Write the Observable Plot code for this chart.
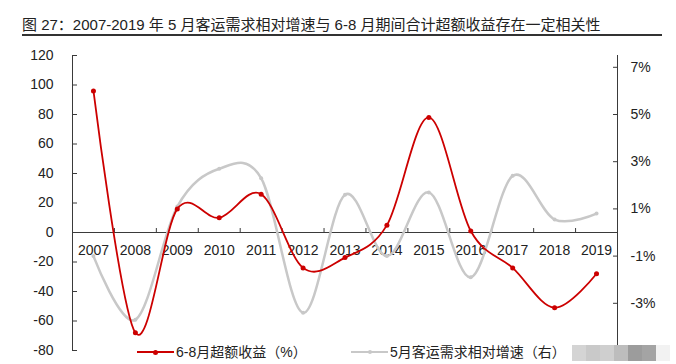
<!DOCTYPE html>
<html>
<head>
<meta charset="utf-8">
<script src="https://cdn.jsdelivr.net/npm/d3@7"></script>
<script src="https://cdn.jsdelivr.net/npm/@observablehq/plot@0.6"></script>
<style>
  html, body { margin: 0; padding: 0; background: #fff; }
  #wrap { position: relative; width: 676px; height: 364px; overflow: hidden;
          font-family: Arial, "Liberation Sans", "Noto Sans CJK SC", sans-serif; color: #222; }
  #chart { position: absolute; left: 0; top: 0; }
  #title { position: absolute; left: 22px; top: 17px; font-size: 15px; line-height: 15px; white-space: nowrap; }
  #rule { position: absolute; left: 22px; top: 34px; width: 640px; height: 2px; background: #333; }
  .leg { position: absolute; top: 344px; font-size: 14px; line-height: 16px; white-space: nowrap; }
  .sw { position: absolute; height: 2px; }
  .sd { position: absolute; border-radius: 50%; }
  .mosaic { position: absolute; top: 345px; height: 16px; }
</style>
</head>
<body>
<div id="wrap">
  <div id="chart"></div>
  <div id="title">图 27：2007-2019 年 5 月客运需求相对增速与 6-8 月期间合计超额收益存在一定相关性</div>
  <div id="rule"></div>
  <div id="legend"></div>
</div>
<script>
// ---- data ----
const years = [2007, 2008, 2009, 2010, 2011, 2012, 2013, 2014, 2015, 2016, 2017, 2018, 2019];
// 6-8月超额收益（%） — left axis
const excessReturn = [96, -68, 16, 10, 26, -24, -17, 5, 78, 1, -24, -51, -28];
// 5月客运需求相对增速（右, %） — right axis
const demandGrowth = [-1.0, -3.7, 1.1, 2.7, 2.3, -3.4, 1.6, -1.0, 1.7, -1.9, 2.4, 0.55, 0.8];
const leftTicks = [-80, -60, -40, -20, 0, 20, 40, 60, 80, 100, 120];
const rightTicks = [-3, -1, 1, 3, 5, 7];
const seriesNames = ["6-8月超额收益（%）", "5月客运需求相对增速（右）"];
// right axis (-5%..7.5%) aligned with left axis (-80..120)
const RATIO = 16;

const RED = "#cc0000";
const GREY = "#c8c8c8";
const AXIS = "#3a3a3a";

const chart = Plot.plot({
  width: 676,
  height: 364,
  marginLeft: 72,
  marginRight: 59,
  marginTop: 55,
  marginBottom: 14,
  x: { type: "linear", domain: [years[0] - 0.5, years[years.length - 1] + 0.5], axis: null },
  y: { domain: [-80, 120], axis: null },
  style: { fontFamily: "Arial, 'Liberation Sans', sans-serif", fontSize: "14px", color: "#222", background: "transparent" },
  marks: [
    Plot.axisY({ anchor: "left", ticks: leftTicks, tickSize: -5, tickPadding: 24,
                 tickFormat: d => String(d), stroke: AXIS, fill: "#222", fontSize: 14 }),
    Plot.axisY({ anchor: "right", ticks: rightTicks.map(v => v * RATIO), tickSize: -5, tickPadding: 18,
                 tickFormat: d => (d / RATIO) + "%", stroke: AXIS, fill: "#222", fontSize: 14 }),
    Plot.ruleX([years[0] - 0.5, years[years.length - 1] + 0.5], { x: d => d, stroke: AXIS, strokeWidth: 1 }),
    Plot.ruleY([0], { y: d => d, stroke: AXIS, strokeWidth: 1 }),
    Plot.ruleX(years.slice(0, -1), { x: d => d + 0.5, y1: 0, y2: 2.7, stroke: AXIS, strokeWidth: 1 }),
    Plot.text(years, { x: d => d, y: 0, dy: 18, text: d => String(d), fill: "#222", fontSize: 14 }),
    Plot.line(years, { x: d => d, y: (d, i) => demandGrowth[i] * RATIO, curve: "cardinal",
                       stroke: GREY, strokeWidth: 2.5 }),
    Plot.dot(years, { x: d => d, y: (d, i) => demandGrowth[i] * RATIO, r: 2, fill: GREY, stroke: null }),
    Plot.line(years, { x: d => d, y: (d, i) => excessReturn[i], curve: "cardinal",
                       stroke: RED, strokeWidth: 1.8 }),
    Plot.dot(years, { x: d => d, y: (d, i) => excessReturn[i], r: 2.5, fill: RED, stroke: null })
  ]
});
document.getElementById("chart").appendChild(chart);

// legend
const legend = document.getElementById("legend");
const items = [
  { name: seriesNames[0], color: RED, x: 137, w: 37, h: 2, r: 2.5 },
  { name: seriesNames[1], color: GREY, x: 351, w: 37, h: 2, r: 2 }
];
for (const it of items) {
  const line = document.createElement("div");
  line.className = "sw";
  line.style.cssText = `left:${it.x}px;top:${351}px;width:${it.w}px;height:${it.h}px;background:${it.color};`;
  legend.appendChild(line);
  const dot = document.createElement("div");
  dot.className = "sd";
  dot.style.cssText = `left:${it.x + it.w / 2 - it.r}px;top:${352 - it.r}px;width:${2 * it.r}px;height:${2 * it.r}px;background:${it.color};`;
  legend.appendChild(dot);
  const t = document.createElement("div");
  t.className = "leg";
  t.style.left = (it.x + it.w + 2) + "px";
  t.textContent = it.name;
  legend.appendChild(t);
}

// pixelated watermark patch seen at bottom-right of the reference (decorative)
const mosaicShades = ["#d4d4d4", "#c9c9c9", "#cfcfcf", "#bdbdbd", "#9c9c9c", "#a4a4a4", "#f2f2f2"];
mosaicShades.forEach((c, i) => {
  const b = document.createElement("div");
  b.className = "mosaic";
  b.style.left = (572 + i * 14) + "px";
  b.style.width = "14px";
  b.style.background = c;
  legend.appendChild(b);
});
</script>
</body>
</html>
